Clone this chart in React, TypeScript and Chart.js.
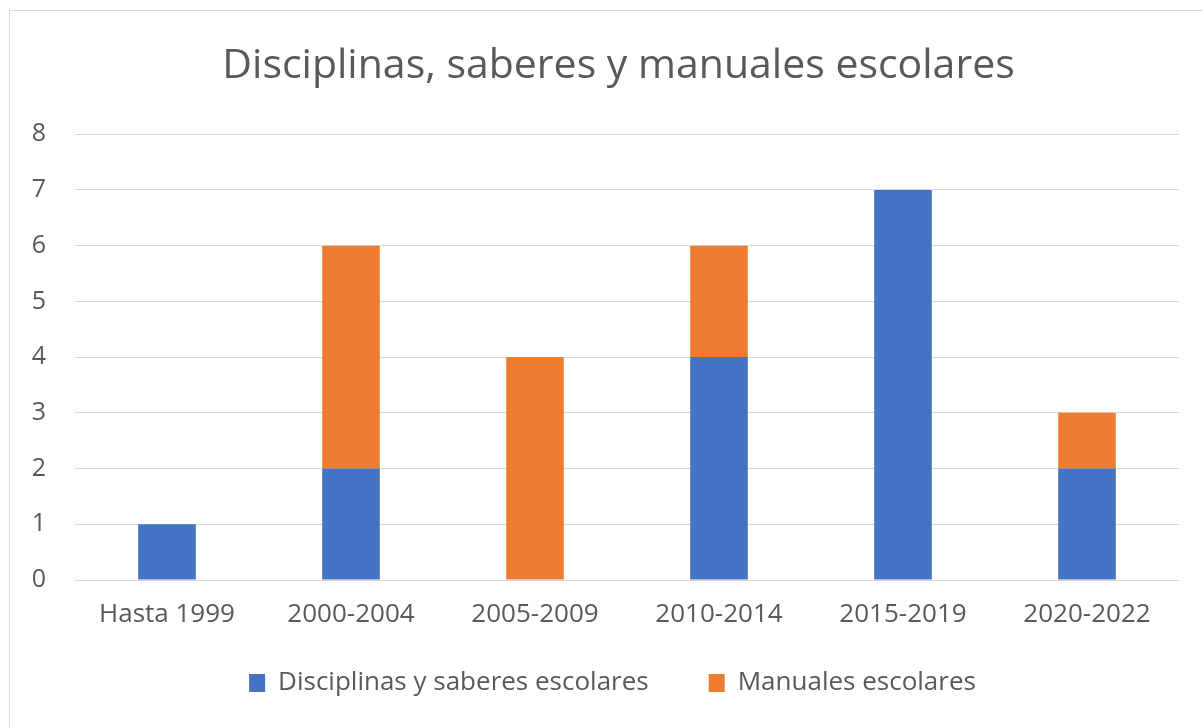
import React, { useEffect, useRef } from "react";
import { Chart, registerables } from "chart.js";

Chart.register(...registerables);

const categories = ["Hasta 1999", "2000-2004", "2005-2009", "2010-2014", "2015-2019", "2020-2022"];
const disciplinas = [1, 2, 0, 4, 7, 2];
const manuales = [0, 4, 4, 2, 0, 1];
const seriesNames = ["Disciplinas y saberes escolares", "Manuales escolares"];
const titleText = "Disciplinas, saberes y manuales escolares";

const FONT = "'Open Sans', 'Noto Sans', sans-serif";
const TEXT = "#595959";

// Shifts the title and legend boxes, as in the reference.
const shiftBoxes = {
  id: "shiftBoxes",
  afterLayout(chart: any) {
    if (chart.titleBlock) chart.titleBlock.left += 48;
    if (chart.legend) {
      chart.legend.left += 36;
      chart.legend.top -= 13;
      chart.legend.bottom -= 13;
    }
  },
};

export default function App() {
  const ref = useRef<HTMLCanvasElement | null>(null);

  useEffect(() => {
    if (!ref.current) return;
    const chart = new Chart(ref.current, {
      type: "bar",
      data: {
        labels: categories,
        datasets: [
          { label: seriesNames[0], data: disciplinas, backgroundColor: "#4472C4", barPercentage: 0.313, categoryPercentage: 1 },
          { label: seriesNames[1], data: manuales, backgroundColor: "#ED7D31", barPercentage: 0.313, categoryPercentage: 1 },
        ],
      },
      options: {
        animation: false,
        responsive: false,
        maintainAspectRatio: false,
        layout: { padding: { left: 0, right: 24, top: 0, bottom: 10 } },
        plugins: {
          title: {
            display: true,
            text: titleText,
            color: TEXT,
            font: { family: FONT, size: 41, weight: "normal" },
            padding: { top: 31, bottom: 43 },
          },
          legend: {
            position: "bottom",
            labels: {
              color: TEXT,
              font: { family: FONT, size: 26 },
              boxWidth: 16,
              boxHeight: 18,
              padding: 60,
            },
          },
          tooltip: { enabled: false },
        },
        scales: {
          x: {
            stacked: true,
            grid: { display: false },
            border: { display: false },
            ticks: { color: TEXT, font: { family: FONT, size: 26 }, padding: 11, maxRotation: 0 },
            afterFit: (s: any) => { s.height = 43; },
          },
          y: {
            stacked: true,
            min: 0,
            max: 8,
            grid: { color: "#D9D9D9", drawTicks: false, lineWidth: 1 },
            border: { display: false },
            ticks: { stepSize: 1, color: TEXT, font: { family: FONT, size: 25 }, padding: 29 },
            afterFit: (s: any) => { s.width = 65; },
          },
        },
      },
      plugins: [shiftBoxes],
    });
    return () => chart.destroy();
  }, []);

  return (
    <div
      style={{
        position: "fixed",
        left: 9,
        top: 10,
        width: 1200,
        height: 730,
        borderLeft: "1px solid #D9D9D9",
        borderTop: "1px solid #D9D9D9",
        background: "#fff",
        boxSizing: "border-box",
      }}
    >
      <canvas ref={ref} width={1193} height={718} style={{ display: "block" }} />
    </div>
  );
}
